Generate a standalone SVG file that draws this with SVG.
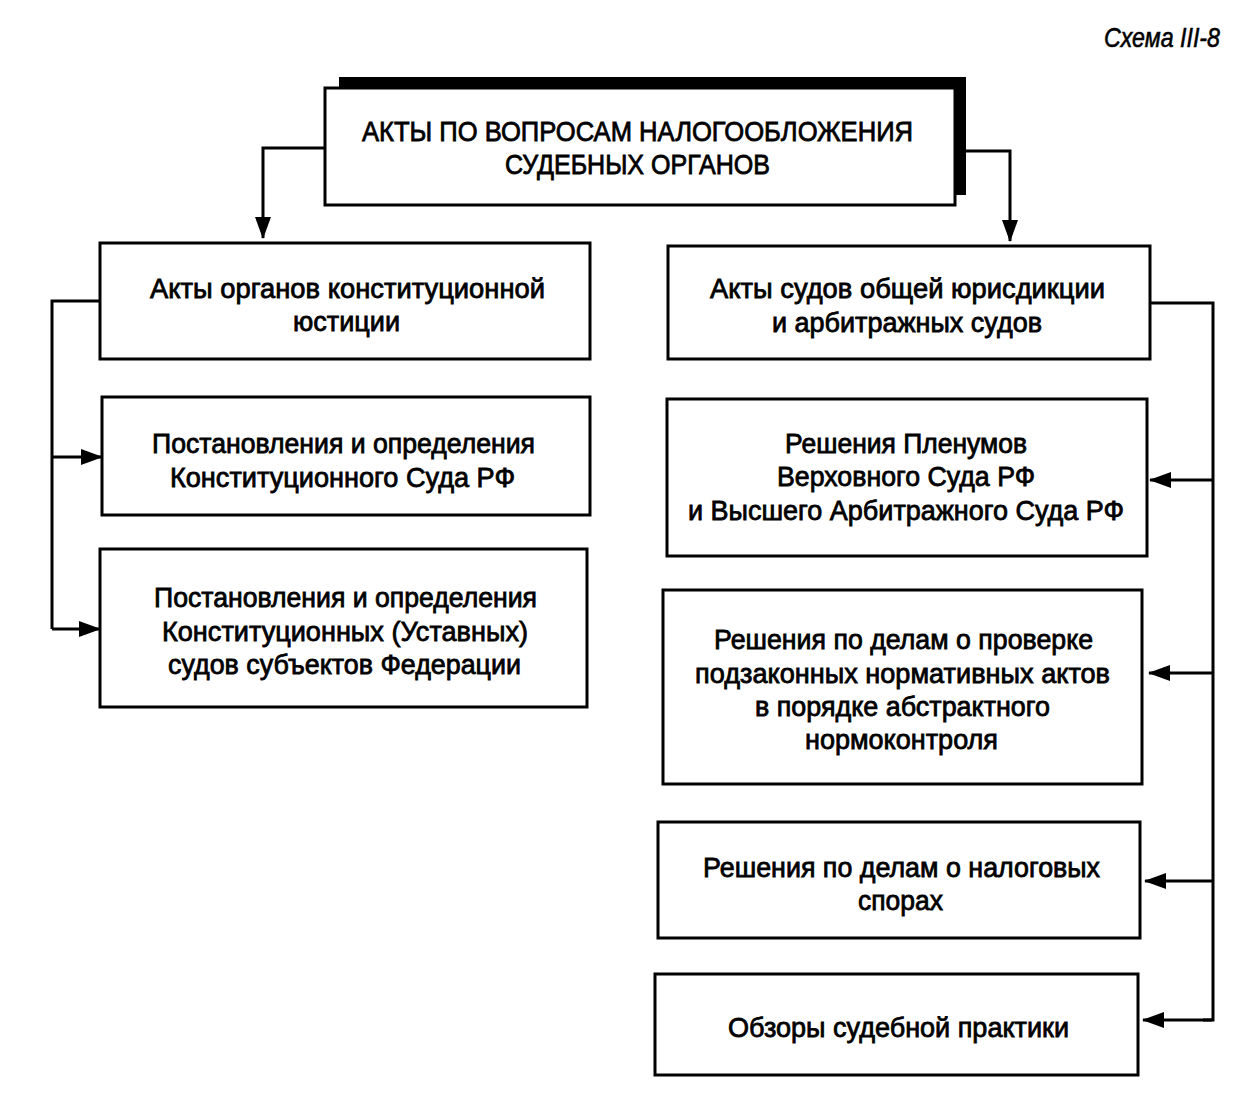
<svg xmlns="http://www.w3.org/2000/svg" width="1243" height="1106" viewBox="0 0 1243 1106">
<defs>
<marker id="arr" markerUnits="userSpaceOnUse" markerWidth="22" markerHeight="16" refX="21" refY="8" orient="auto">
<path d="M0,0 L22,8 L0,16 Z" fill="#000"/>
</marker>
<style>
.box{fill:#fff;stroke:#000;stroke-width:3}
.t{font-family:"Liberation Sans Narrow","Liberation Sans",Arial,sans-serif;font-size:28px;fill:#000;stroke:#000;stroke-width:0.8;text-anchor:start}
.c{fill:none;stroke:#000;stroke-width:3}
</style>
</defs>
<rect width="1243" height="1106" fill="#fff"/>
<text x="1104" y="47" font-family="Liberation Sans Narrow,Liberation Sans,sans-serif" font-style="italic" font-size="28" textLength="116" lengthAdjust="spacingAndGlyphs" stroke="#000" stroke-width="0.6">Схема III-8</text>
<g id="connectors">
<polyline class="c" points="325,148 263,148 263,238" marker-end="url(#arr)"/>
<polyline class="c" points="955,151 1010,151 1010,241" marker-end="url(#arr)"/>
<polyline class="c" points="100,301 52,301 52,629"/>
<line class="c" x1="52" y1="457" x2="102" y2="457" marker-end="url(#arr)"/>
<line class="c" x1="52" y1="629" x2="100" y2="629" marker-end="url(#arr)"/>
<polyline class="c" points="1150,303 1213,303 1213,1020 1203,1020"/>
<line class="c" x1="1212" y1="480" x2="1150" y2="480" marker-end="url(#arr)"/>
<line class="c" x1="1212" y1="673" x2="1149" y2="673" marker-end="url(#arr)"/>
<line class="c" x1="1212" y1="881" x2="1145" y2="881" marker-end="url(#arr)"/>
<line class="c" x1="1212" y1="1020" x2="1143" y2="1020" marker-end="url(#arr)"/>
</g>
<g id="top">
<rect x="339" y="77" width="627" height="118" fill="#000"/>
<rect class="box" x="325" y="88" width="630" height="117"/>
<text class="t" x="362" y="141" textLength="551" lengthAdjust="spacingAndGlyphs">АКТЫ ПО ВОПРОСАМ НАЛОГООБЛОЖЕНИЯ</text>
<text class="t" x="505" y="174" textLength="265" lengthAdjust="spacingAndGlyphs">СУДЕБНЫХ ОРГАНОВ</text>
</g>
<g id="l1">
<rect class="box" x="100" y="243" width="490" height="116"/>
<text class="t" x="150" y="298" textLength="395" lengthAdjust="spacingAndGlyphs">Акты органов конституционной</text>
<text class="t" x="293" y="331" textLength="107" lengthAdjust="spacingAndGlyphs">юстиции</text>
</g>
<g id="l2">
<rect class="box" x="102" y="397" width="488" height="118"/>
<text class="t" x="152" y="453" textLength="383" lengthAdjust="spacingAndGlyphs">Постановления и определения</text>
<text class="t" x="170" y="487" textLength="345" lengthAdjust="spacingAndGlyphs">Конституционного Суда РФ</text>
</g>
<g id="l3">
<rect class="box" x="100" y="549" width="487" height="158"/>
<text class="t" x="154" y="607" textLength="383" lengthAdjust="spacingAndGlyphs">Постановления и определения</text>
<text class="t" x="162" y="641" textLength="366" lengthAdjust="spacingAndGlyphs">Конституционных (Уставных)</text>
<text class="t" x="168" y="674" textLength="353" lengthAdjust="spacingAndGlyphs">судов субъектов Федерации</text>
</g>
<g id="r1">
<rect class="box" x="668" y="246" width="482" height="113"/>
<text class="t" x="710" y="298" textLength="395" lengthAdjust="spacingAndGlyphs">Акты судов общей юрисдикции</text>
<text class="t" x="772" y="332" textLength="270" lengthAdjust="spacingAndGlyphs">и арбитражных судов</text>
</g>
<g id="r2">
<rect class="box" x="667" y="399" width="480" height="157"/>
<text class="t" x="785" y="453" textLength="242" lengthAdjust="spacingAndGlyphs">Решения Пленумов</text>
<text class="t" x="777" y="486" textLength="258" lengthAdjust="spacingAndGlyphs">Верховного Суда РФ</text>
<text class="t" x="688" y="520" textLength="436" lengthAdjust="spacingAndGlyphs">и Высшего Арбитражного Суда РФ</text>
</g>
<g id="r3">
<rect class="box" x="663" y="590" width="479" height="194"/>
<text class="t" x="714" y="649" textLength="379" lengthAdjust="spacingAndGlyphs">Решения по делам о проверке</text>
<text class="t" x="695" y="683" textLength="415" lengthAdjust="spacingAndGlyphs">подзаконных нормативных актов</text>
<text class="t" x="755" y="716" textLength="295" lengthAdjust="spacingAndGlyphs">в порядке абстрактного</text>
<text class="t" x="805" y="749" textLength="193" lengthAdjust="spacingAndGlyphs">нормоконтроля</text>
</g>
<g id="r4">
<rect class="box" x="658" y="822" width="482" height="116"/>
<text class="t" x="703" y="877" textLength="397" lengthAdjust="spacingAndGlyphs">Решения по делам о налоговых</text>
<text class="t" x="858" y="910" textLength="85" lengthAdjust="spacingAndGlyphs">спорах</text>
</g>
<g id="r5">
<rect class="box" x="655" y="974" width="483" height="101"/>
<text class="t" x="728" y="1037" textLength="341" lengthAdjust="spacingAndGlyphs">Обзоры судебной практики</text>
</g>
</svg>
